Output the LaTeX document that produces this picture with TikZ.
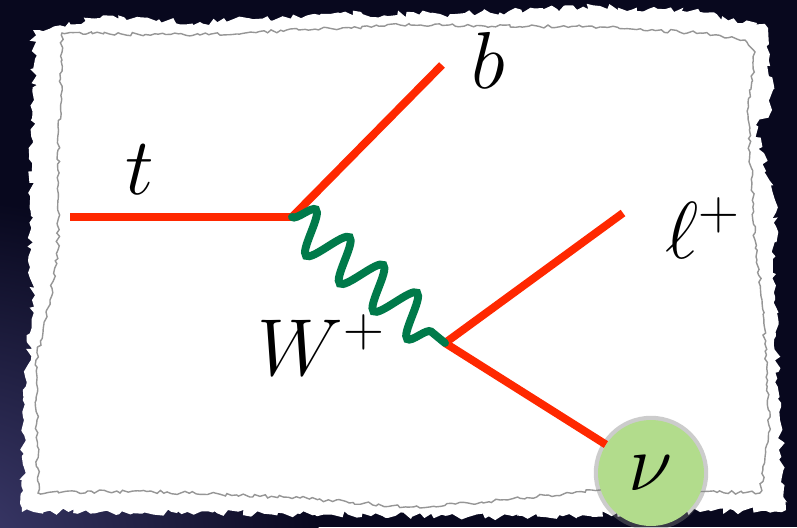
\RequirePackage{fix-cm}
\documentclass[tikz,border=0pt]{standalone}
\usepackage{xcolor}
\usetikzlibrary{decorations.pathmorphing, shadows}

\definecolor{nightsky}{RGB}{8,8,30}
\definecolor{dusk}{RGB}{62,60,110}
\definecolor{quark}{RGB}{255,40,0}
\definecolor{boson}{RGB}{0,122,74}
\definecolor{nugreen}{RGB}{178,220,140}
\definecolor{paperline}{RGB}{150,150,150}

\begin{document}
\begin{tikzpicture}[
    x=0.02cm, y=-0.02cm,
    every node/.style={font=\fontsize{46}{52}\selectfont, inner sep=0pt},
    fermion/.style={quark, line width=4.5pt},
    wline/.style={boson, line width=4.5pt, line cap=round, decorate,
      decoration={snake, segment length=0.874cm, amplitude=0.42cm}},
    tornedge/.style={decorate, decoration={random steps, segment length=0.1cm, amplitude=0.07cm}},
    tornline/.style={decorate, decoration={random steps, segment length=0.08cm, amplitude=0.035cm}},
    bubble/.style={circle, fill=nugreen, minimum size=2.12cm,
      drop shadow={shadow xshift=0pt, shadow yshift=0pt, shadow scale=1.08, opacity=0.4}},
  ]
    \useasboundingbox (0,0) rectangle (797,527);

    % 背景
    \begin{scope}
      \clip (0,0) rectangle (797,527);
      \fill[nightsky] (0,0) rectangle (797,527);
      \shade[inner color=dusk, outer color=nightsky] (-40,560) circle (360);
    \end{scope}

    % 撕纸
    \fill[white, tornedge] (33,30) -- (100,18) -- (200,22) -- (330,14) -- (450,14)
      -- (600,6) -- (700,12) -- (768,28) -- (772,110) -- (756,125) -- (775,200)
      -- (775,300) -- (780,420) -- (786,510) -- (700,512) -- (500,517)
      -- (300,514) -- (100,512) -- (22,512) -- (24,420) -- (32,300) -- (30,200)
      -- (34,100) -- cycle;
    \draw[paperline, line width=0.8pt, tornline] (62,33) -- (200,35) -- (400,25)
      -- (600,27) -- (700,33) -- (745,40) -- (755,52) -- (748,115) -- (755,240)
      -- (762,300) -- (770,430) -- (760,493) -- (600,490) -- (500,500)
      -- (420,508) -- (300,498) -- (140,491) -- (38,493) -- (37,420) -- (36,360)
      -- (50,300) -- (58,250) -- (58,150) -- (62,60) -- cycle;

    % 顶点与外线端点
    \coordinate (tin)  at (70,217);
    \coordinate (vtop) at (292,217);
    \coordinate (vlep) at (445,343);
    \coordinate (bout) at (442,65);
    \coordinate (lout) at (623,213);
    \node[bubble] (nu) at (651,473) {$\nu$};

    % 费米子线
    \draw[fermion] (tin) -- (vtop);
    \draw[fermion] (vtop) -- (bout);
    \draw[fermion] (vlep) -- (lout);
    \draw[fermion] (vlep) -- (nu);

    % W 玻色子
    \draw[wline] (vtop) -- (vlep);

    % 粒子标签
    \node (tlab) at (140,170) {$t$};
    \node (blab) at (488,60)  {$b$};
    \node (wlab) at (321,345) {$W^+$};
    \node (llab) at (703,228) {$\ell^+$};
  \end{tikzpicture}
\end{document}
